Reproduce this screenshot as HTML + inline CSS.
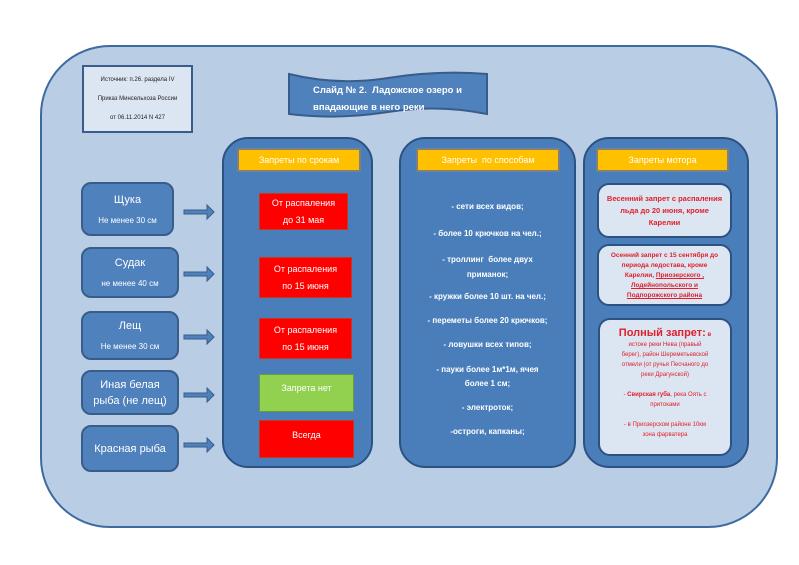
<!DOCTYPE html>
<html><head><meta charset="utf-8"><style>
body{margin:0;width:799px;height:565px;background:#fff;position:relative;overflow:hidden;font-family:"Liberation Sans","DejaVu Sans",sans-serif}
div{position:absolute;box-sizing:border-box}
.c{display:flex;flex-direction:column;align-items:center;justify-content:center;text-align:center}
.lb{background:#4f81bd;border:2px solid #385d8a;border-radius:10px;color:#fff;font-size:11px}
.lb small{font-size:8px;margin-top:10px}
.col{background:#4a7ebb;border:2px solid #2c5282;border-radius:26px}
.hd{background:#ffc000;border:2px solid #7f7f7f;color:#fff;font-size:9px}
.rd{background:#ff0000;border:1px solid #c0392b;color:#fff;font-size:9px;line-height:17px}
.t{color:#fff;font-size:8px;font-weight:bold;width:177px;left:399px;text-align:center}
.rb{background:#dce6f2;border:2px solid #2c5282;border-radius:12px;color:#e0202a;font-weight:bold;font-size:6.5px;line-height:10px;text-align:center}
</style></head><body>
<div style="left:40px;top:45px;width:738px;height:483px;background:#b9cde5;border:2px solid #3e6aa0;border-radius:70px"></div>
<div class="c" style="left:82px;top:65px;width:111px;height:68px;background:#dce6f2;border:2px solid #385d8a;font-size:6px;color:#222;line-height:19px">Источник: п.26. раздела IV<br>Приказ Минсельхоза России<br>от 06.11.2014 N 427</div>
<svg style="position:absolute;left:288px;top:70px" width="202" height="52"><path d="M1,4 Q50,16 100,8 Q150,0 199,4 L199,44 Q150,34 100,42 Q50,50 1,44 Z" fill="#4f81bd" stroke="#385d8a" stroke-width="2"/></svg>
<div style="left:313px;top:82px;color:#fff;font-size:9.5px;font-weight:bold;line-height:17px">Слайд № 2.&nbsp; Ладожское озеро и<br>впадающие в него реки</div>
<div class="col" style="left:222px;top:137px;width:151px;height:331px"></div>
<div class="col" style="left:399px;top:137px;width:177px;height:331px"></div>
<div class="col" style="left:583px;top:137px;width:166px;height:331px"></div>
<div class="hd c" style="left:237px;top:148px;width:124px;height:24px">Запреты по срокам</div>
<div class="hd c" style="left:416px;top:148px;width:144px;height:24px">Запреты&nbsp; по способам</div>
<div class="hd c" style="left:596px;top:148px;width:133px;height:24px">Запреты мотора</div>
<div class="lb c" style="left:81px;top:182px;width:93px;height:54px">Щука<small>Не менее 30 см</small></div>
<div class="lb c" style="left:81px;top:247px;width:98px;height:51px">Судак<small>не менее 40 см</small></div>
<div class="lb c" style="left:81px;top:311px;width:98px;height:49px">Лещ<small>Не менее 30 см</small></div>
<div class="lb c" style="left:81px;top:370px;width:98px;height:45px;line-height:16px">Иная белая<br>рыба (не лещ)</div>
<div class="lb c" style="left:81px;top:425px;width:98px;height:47px">Красная рыба</div>
<svg style="position:absolute;left:0;top:0" width="799" height="565">
<g fill="#4f81bd" stroke="#385d8a" stroke-width="1">
<path d="M184,210h23v-5l7,7l-7,7v-5h-23z"/>
<path d="M184,272h23v-5l7,7l-7,7v-5h-23z"/>
<path d="M184,335h23v-5l7,7l-7,7v-5h-23z"/>
<path d="M184,393h23v-5l7,7l-7,7v-5h-23z"/>
<path d="M184,443h23v-5l7,7l-7,7v-5h-23z"/>
</g></svg>
<div class="rd c" style="left:259px;top:193px;width:89px;height:37px">От распаления<br>до 31 мая</div>
<div class="rd c" style="left:259px;top:257px;width:93px;height:41px">От распаления<br>по 15 июня</div>
<div class="rd c" style="left:259px;top:318px;width:93px;height:41px">От распаления<br>по 15 июня</div>
<div class="c" style="left:259px;top:374px;width:95px;height:38px;background:#92d050;border:1px solid #6a9a3a;color:#fff;font-size:9px;justify-content:flex-start;padding-top:8px">Запрета нет</div>
<div class="rd c" style="left:259px;top:420px;width:95px;height:38px;justify-content:flex-start;padding-top:6px">Всегда</div>
<div class="t" style="top:202px">- сети всех видов;</div>
<div class="t" style="top:229px">- более 10 крючков на чел.;</div>
<div class="t" style="top:252px;line-height:15px">- троллинг&nbsp; более двух<br>приманок;</div>
<div class="t" style="top:292px">- кружки более 10 шт. на чел.;</div>
<div class="t" style="top:316px">- переметы более 20 крючков;</div>
<div class="t" style="top:340px">- ловушки всех типов;</div>
<div class="t" style="top:363px;line-height:14px">- пауки более 1м*1м, ячея<br>более 1 см;</div>
<div class="t" style="top:403px">- электроток;</div>
<div class="t" style="top:427px">-остроги, капканы;</div>
<div class="rb" style="left:597px;top:183px;width:135px;height:55px;font-size:7.5px;line-height:12px;padding-top:8px">Весенний запрет с распаления<br>льда до 20 июня, кроме<br>Карелии</div>
<div class="rb" style="left:597px;top:244px;width:135px;height:62px;padding-top:5px">Осенний запрет с 15 сентября до<br>периода ледостава, кроме<br>Карелии, <u>Приозерского ,</u><br><u>Лодейнопольского и</u><br><u>Подпорожского района</u></div>
<div class="rb" style="left:598px;top:318px;width:134px;height:138px;font-weight:normal;font-size:6px;line-height:10px;padding-top:8px"><b style="font-size:11px">Полный запрет:</b> <b>в</b><br>истоке реки Нева (правый<br>берег), район Шереметьевской<br>отмели (от ручья Песчаного до<br>реки Драгунской)<br><br>- <b>Свирская губа</b>, река Оять с<br>притоками<br><br>- в Приозерском районе 10км<br>зона фарватера</div>
</body></html>
